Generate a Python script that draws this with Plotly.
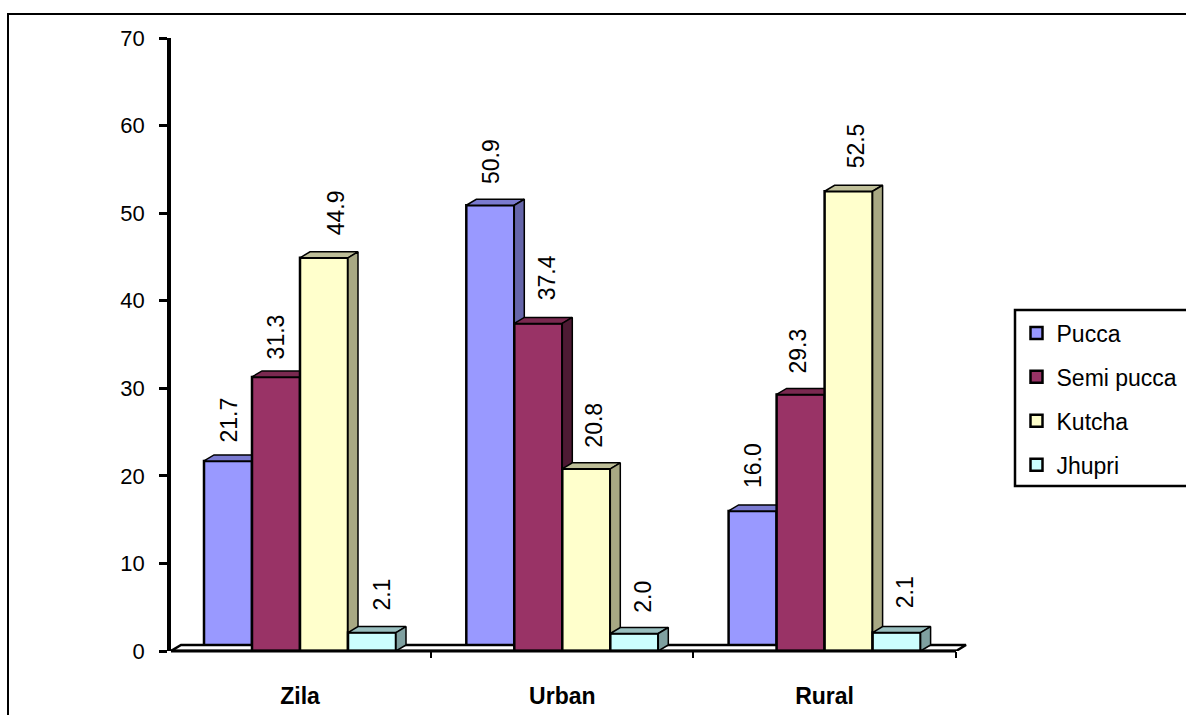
import plotly.graph_objects as go

categories = ["Zila", "Urban", "Rural"]
series_names = ["Pucca", "Semi pucca", "Kutcha", "Jhupri"]
pucca = [21.7, 50.9, 16.0]
semi_pucca = [31.3, 37.4, 29.3]
kutcha = [44.9, 20.8, 52.5]
jhupri = [2.1, 2.0, 2.1]
y_ticks = [0, 10, 20, 30, 40, 50, 60, 70]
values_by_series = [pucca, semi_pucca, kutcha, jhupri]

W, H = 1186, 715
L, R, T, B = 171, 970, 38, 651
PX_PER_CAT = 262.3
X0_PX = 300
PX_PER_Y = (B - T) / 70
DX = 10 / PX_PER_CAT
DY = 6 / PX_PER_Y
BAR_W = 48 / PX_PER_CAT
xr = [(L - X0_PX) / PX_PER_CAT, (R - X0_PX) / PX_PER_CAT]

face = ["#9999FF", "#993366", "#FFFFCC", "#CCFFFF"]
top = ["#7A7AD0", "#7A2950", "#BFBF99", "#99BFBF"]
side = ["#6666AA", "#4D1A33", "#A8A883", "#7FA0A0"]
FONT = "Liberation Sans, Arial, sans-serif"

# label nudges (px) per series / category
label_dx = [[1, 0, 1], [0, 9, -3], [12, 8, 7], [10, 9, 8]]
label_dy = [[16, 19, 21], [15, 21, 19], [20, 19, 21], [20, 19, 22]]

fig = go.Figure()


def ax(n):
    return "" if n == 0 else str(n + 1)


# floor of the 3-D chart
fx0, fx1 = xr[0], (956 - X0_PX) / PX_PER_CAT
fig.add_trace(go.Scatter(
    x=[fx0, fx1, fx1 + DX, fx0 + DX, fx0], y=[0, 0, DY, DY, 0],
    mode="lines", fill="toself", fillcolor="white",
    line=dict(color="black", width=2.5), showlegend=False, hoverinfo="skip",
    cliponaxis=False, xaxis="x", yaxis="y"))

for i, (name, vals) in enumerate(zip(series_names, values_by_series)):
    a = ax(i)
    xs = [c + (i - 1.5) * BAR_W for c in range(len(categories))]
    for xc, v in zip(xs, vals):
        x1 = xc + BAR_W / 2
        x0 = xc - BAR_W / 2
        fig.add_trace(go.Scatter(
            x=[x0, x0 + DX, x1 + DX, x1, x0], y=[v, v + DY, v + DY, v, v],
            mode="lines", fill="toself", fillcolor=top[i],
            line=dict(color="black", width=1.5), showlegend=False,
            hoverinfo="skip", xaxis="x" + a, yaxis="y" + a, legendgroup=name))
        fig.add_trace(go.Scatter(
            x=[x1, x1 + DX, x1 + DX, x1, x1], y=[0, DY, v + DY, v, 0],
            mode="lines", fill="toself", fillcolor=side[i],
            line=dict(color="black", width=1.5), showlegend=False,
            hoverinfo="skip", xaxis="x" + a, yaxis="y" + a, legendgroup=name))
    fig.add_trace(go.Bar(
        x=xs, y=vals, width=BAR_W, name=name, legendgroup=name,
        marker=dict(color=face[i], line=dict(color="black", width=2.5)),
        xaxis="x" + a, yaxis="y" + a))
    for c, (xc, v) in enumerate(zip(xs, vals)):
        fig.add_annotation(
            x=xc, y=v, xref="x", yref="y", text=f"{v:.1f}", textangle=-90,
            showarrow=False, yanchor="bottom", xanchor="center",
            xshift=label_dx[i][c], yshift=label_dy[i][c],
            font=dict(family=FONT, size=23, color="black"))


def px(x):
    return (x - L) / (R - L)


def py(y):
    return (B - y) / (B - T)


shapes = [
    dict(type="line", xref="paper", yref="paper", x0=px(8), x1=px(8), y0=py(14), y1=py(720),
         line=dict(color="black", width=2)),
    dict(type="line", xref="paper", yref="paper", x0=px(7), x1=px(1190), y0=py(14), y1=py(14),
         line=dict(color="black", width=2)),
    dict(type="line", xref="paper", yref="paper", x0=0, x1=px(956), y0=0, y1=0, layer="above",
         line=dict(color="black", width=3)),
    dict(type="rect", xref="paper", yref="paper", x0=px(1015), x1=px(1200), y0=py(310), y1=py(486),
         line=dict(color="black", width=2.5), fillcolor="white", layer="below"),
]

layout = dict(
    width=W, height=H, paper_bgcolor="white", plot_bgcolor="white",
    margin=dict(l=L, r=W - R, t=T, b=H - B, autoexpand=False),
    barmode="overlay", shapes=shapes, font=dict(family=FONT, size=22, color="black"),
    legend=dict(
        x=px(1016.5), y=py(311.5), xanchor="left", yanchor="top", borderwidth=0,
        bgcolor="rgba(0,0,0,0)", tracegroupgap=11, traceorder="grouped",
        font=dict(family=FONT, size=23, color="black"), itemclick=False, itemdoubleclick=False),
    xaxis=dict(
        range=xr, tickmode="array", tickvals=list(range(len(categories))), ticktext=[f"<b>{c}</b>" for c in categories],
        ticks="", showgrid=False, zeroline=False, showline=False, automargin=False,
        tickfont=dict(family=FONT, size=23, color="black"), ticklabelstandoff=29,
        minor=dict(tickmode="array", tickvals=[-0.5, 0.5, 1.5, 2.5], ticks="outside", ticklen=6, tickwidth=2,
                   tickcolor="black", showgrid=False)),
    yaxis=dict(
        range=[0, 70], tickmode="array", tickvals=y_ticks, ticks="outside", ticklen=8, tickwidth=2.5,
        tickcolor="black", showgrid=False, zeroline=False, showline=True, linecolor="black", linewidth=3.5,
        automargin=False, tickfont=dict(family=FONT, size=22, color="black"), ticklabelstandoff=10),
)
for i in range(1, 4):
    layout[f"xaxis{i + 1}"] = dict(range=xr, overlaying="x", showticklabels=False, ticks="", showgrid=False,
                                   zeroline=False, showline=False)
    layout[f"yaxis{i + 1}"] = dict(range=[0, 70], overlaying="y", visible=False)
fig.update_layout(**layout)

fig.write_html("out.html", config={"displayModeBar": False},
               post_script="document.body.style.margin='0';document.body.style.overflow='hidden';")
